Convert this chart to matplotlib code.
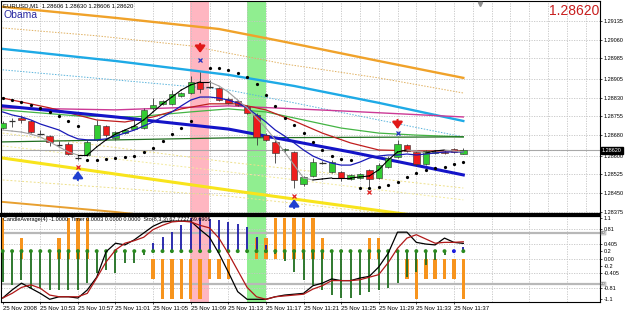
import numpy as np
import matplotlib
matplotlib.use("Agg")
import matplotlib.pyplot as plt
from matplotlib.transforms import blended_transform_factory as blend

plt.rcParams['font.family'] = ['Liberation Sans', 'DejaVu Sans']

# ===============================
# Data (EURUSD M1, 25 Nov 2008)
# ===============================
bars = np.arange(50)

opens = [1.28709, 1.28737, 1.28749, 1.28737, 1.28685, 1.28677, 1.28642, 1.28646, 1.28590, 1.28602,
         1.28662, 1.28717, 1.28670, 1.28689, 1.28705, 1.28709, 1.28789, 1.28805, 1.28805, 1.28836,
         1.28848, 1.28892, 1.28872, 1.28868, 1.28824, 1.28816, 1.28793, 1.28761, 1.28681, 1.28654,
         1.28620, 1.28614, 1.28487, 1.28519, 1.28570, 1.28535, 1.28535, 1.28507, 1.28511, 1.28543,
         1.28511, 1.28555, 1.28594, 1.28642, 1.28614, 1.28566, 1.28610, 1.28614, 1.28626, 1.28606]
highs = [1.28737, 1.28749, 1.28761, 1.28741, 1.28701, 1.28681, 1.28658, 1.28654, 1.28602, 1.28662,
         1.28741, 1.28721, 1.28697, 1.28705, 1.28749, 1.28789, 1.28828, 1.28820, 1.28860, 1.28852,
         1.28916, 1.28932, 1.28900, 1.28872, 1.28832, 1.28820, 1.28801, 1.28769, 1.28689, 1.28662,
         1.28630, 1.28618, 1.28519, 1.28590, 1.28578, 1.28582, 1.28539, 1.28527, 1.28531, 1.28547,
         1.28570, 1.28598, 1.28662, 1.28646, 1.28618, 1.28622, 1.28622, 1.28622, 1.28630, 1.28630]
lows = [1.28705, 1.28713, 1.28729, 1.28689, 1.28681, 1.28638, 1.28634, 1.28602, 1.28582, 1.28598,
        1.28658, 1.28674, 1.28662, 1.28685, 1.28701, 1.28705, 1.28781, 1.28801, 1.28801, 1.28832,
        1.28844, 1.28848, 1.28868, 1.28816, 1.28805, 1.28797, 1.28765, 1.28642, 1.28658, 1.28570,
        1.28614, 1.28471, 1.28479, 1.28515, 1.28566, 1.28531, 1.28499, 1.28503, 1.28507, 1.28475,
        1.28507, 1.28551, 1.28590, 1.28614, 1.28558, 1.28562, 1.28606, 1.28606, 1.28610, 1.28606]
closes = [1.28729, 1.28735, 1.28741, 1.28693, 1.28685, 1.28654, 1.28642, 1.28606, 1.28590, 1.28654,
          1.28721, 1.28681, 1.28693, 1.28701, 1.28717, 1.28781, 1.28801, 1.28816, 1.28844, 1.28848,
          1.28892, 1.28864, 1.28870, 1.28820, 1.28808, 1.28801, 1.28769, 1.28674, 1.28662, 1.28610,
          1.28624, 1.28503, 1.28515, 1.28574, 1.28570, 1.28574, 1.28511, 1.28523, 1.28527, 1.28507,
          1.28562, 1.28590, 1.28646, 1.28618, 1.28566, 1.28618, 1.28614, 1.28610, 1.28614, 1.28620]

# moving averages / bands, read at a few bars
orange_i = [0, 12, 23, 30, 40, 49]
orange_p = [1.29190, 1.29146, 1.29102, 1.29051, 1.28975, 1.28908]
tan_i = [0, 10, 20, 30, 40, 49]
tan_p = [1.29106, 1.29075, 1.29035, 1.28963, 1.28908, 1.28848]
cyan_i = [0, 12, 24, 31, 40, 49]
cyan_p = [1.29023, 1.28975, 1.28920, 1.28876, 1.28809, 1.28737]
cyand_i = [0, 24, 31, 40, 49]
cyand_p = [1.28940, 1.28860, 1.28809, 1.28741, 1.28674]
mag_i = [0, 12, 24, 36, 49]
mag_p = [1.28789, 1.28781, 1.28797, 1.28777, 1.28753]
grn_i = [0, 8, 14, 20, 24, 28, 32, 36, 40, 44, 49]
grn_p = [1.28781, 1.28757, 1.28753, 1.28773, 1.28785, 1.28773, 1.28741, 1.28709, 1.28689, 1.28681, 1.28674]
dgr_i = [0, 24, 49]
dgr_p = [1.28654, 1.28670, 1.28674]
red_i = [0, 5, 10, 13, 16, 19, 22, 25, 28, 31, 34, 37, 40, 44, 49]
red_p = [1.28828, 1.28789, 1.28741, 1.28733, 1.28753, 1.28785, 1.28805, 1.28805, 1.28781, 1.28737,
         1.28689, 1.28650, 1.28622, 1.28618, 1.28618]
tblue_i = [0, 12, 24, 37, 49]
tblue_p = [1.28797, 1.28753, 1.28705, 1.28614, 1.28523]
yel_i = [0, 24, 49]
yel_p = [1.28590, 1.28463, 1.28336]
lor_i = [0, 12, 20]
lor_p = [1.28416, 1.28376, 1.28344]
pale_i = [0, 24, 49]
pale1_p = [1.28689, 1.28574, 1.28471]
pale2_p = [1.28503, 1.28439, 1.28336]
pale3_p = [1.28638, 1.28535, 1.28424]

blue_ma = [1.28773, 1.28761, 1.28753, 1.28741, 1.28725, 1.28713, 1.28701, 1.28681, 1.28666, 1.28662,
           1.28662, 1.28666, 1.28677, 1.28689, 1.28701, 1.28717, 1.28733, 1.28753, 1.28773, 1.28797,
           1.28820, 1.28832, 1.28832, 1.28828, 1.28820, 1.28808, 1.28789, 1.28761, 1.28733, 1.28701,
           1.28677, 1.28650, 1.28622, 1.28598, 1.28582, 1.28570, 1.28562, 1.28562, 1.28574, 1.28590,
           1.28598, 1.28602, 1.28602, 1.28606, 1.28602, 1.28606, 1.28610, 1.28614, 1.28614, 1.28614]
fast_ma = [1.28701, 1.28697, 1.28693, 1.28685, 1.28674, 1.28654, 1.28634, 1.28614, 1.28602, 1.28602,
           1.28634, 1.28662, 1.28685, 1.28701, 1.28717, 1.28741, 1.28773, 1.28805, 1.28832, 1.28860,
           1.28880, 1.28892, 1.28892, 1.28876, 1.28852, 1.28820, 1.28789, 1.28749, 1.28709, 1.28662,
           1.28614, 1.28562, 1.28511, 1.28503, 1.28507, 1.28511, 1.28511, 1.28511, 1.28515, 1.28519,
           1.28543, 1.28582, 1.28614, 1.28622, 1.28618, 1.28610, 1.28618, 1.28622, 1.28618, 1.28614]

sar_i = [0, 1, 2, 3, 4, 5, 6, 7, 8, 9, 10, 11, 12, 13, 14, 15, 16, 17, 18, 19, 20,
         22, 23, 24, 25, 26, 27, 28, 29, 30, 31, 32, 33, 34, 35, 36, 37,
         38, 39, 40, 41, 42, 43, 44, 45, 46, 47, 48, 49]
sar_p = [1.28828, 1.28820, 1.28812, 1.28801, 1.28789, 1.28773, 1.28757, 1.28737, 1.28717,
         1.28582, 1.28582, 1.28586, 1.28590, 1.28594, 1.28598, 1.28614, 1.28630, 1.28658, 1.28685,
         1.28709, 1.28737,
         1.28947, 1.28947, 1.28940, 1.28928, 1.28912, 1.28884, 1.28840, 1.28797, 1.28749, 1.28721,
         1.28689, 1.28654, 1.28622, 1.28598, 1.28586, 1.28582,
         1.28471, 1.28471, 1.28475, 1.28483, 1.28495, 1.28515, 1.28531, 1.28543, 1.28551, 1.28555,
         1.28566, 1.28574]

# signal crosses and arrows
xmark_i = [8, 21, 31, 39, 42]
xmark_p = [1.28555, 1.28979, 1.28439, 1.28455, 1.28689]
xmark_c = ['#e02020', '#2030c0', '#e02020', '#e02020', '#2030c0']
arrow_i = [8, 21, 31, 42]
arrow_tail = [1.28503, 1.29043, 1.28392, 1.28741]
arrow_tip = [1.28539, 1.29007, 1.28427, 1.28705]
arrow_c = ['#2040d0', '#e01818', '#2040d0', '#e01818']

price_ticks = [1.29135, 1.29060, 1.28985, 1.28905, 1.28830, 1.28755, 1.28680,
               1.28600, 1.28525, 1.28450, 1.28375]
last_price = 1.28620

# sub window
hist = [1.1, 0, 0.55, 0, 0, 0, 0.55, 1.1, 1.1, 1.1,
        0, 0, 0, 0, 0, 0, -0.55, -1.1, -1.1, -1.1,
        -1.1, -1.1, -0.55, -0.55, -0.55, 0, 0, 0.55, 0.55, 1.1,
        1.1, 1.1, 1.1, 1.1, 0.55, 0, 0, 0, 0, 0.55,
        0.55, 0, 0, -0.55, -1.1, -0.55, -0.55, -0.55, -0.55, -1.1]
stems = [-0.64, -0.72, -0.58, -0.8, -0.8, -0.86, -0.86, -0.86, -0.86, -0.67,
         -0.39, -0.31, -0.39, -0.12, -0.12, 0.1, 0.42, 0.58, 0.72, 0.91,
         1.1, 1.1, 1.07, 1.05, 0.99, 0.94, 0.86, 0.58, 0.37, 0.12,
         -0.07, -0.37, -0.58, -0.72, -0.86, -0.99, -1.07, -1.07, -0.99, -0.91,
         -0.86, -0.8, -0.67, -0.5, -0.37, -0.18, -0.04, 0.1, 0.2, 0.31]
dot_level = 0.2
stoch_main = [3.5, 13, 21, 15, 9, 2, 5, 5, 3.5, 13,
              28, 58, 68, 66, 72, 80, 88, 93, 94, 94,
              94, 84, 75, 56, 34, 11, 2, 2, 2, 5,
              7, 8, 9, 18, 21, 26, 24, 24, 27, 29,
              40, 56, 81, 81, 69, 67, 66, 74, 69, 67.77]
stoch_signal = [3.5, 9, 16, 19, 15, 7, 5, 5, 5, 9,
                27, 46, 60, 68, 71, 75, 84, 89, 93, 94,
                93, 89, 86, 74, 56, 36, 16, 5, 2, 5,
                6, 7, 8, 14, 18, 24, 24, 24, 25, 28,
                31, 45, 62, 74, 78, 73, 68, 69, 69, 69.69]
sub_ticks = [1.1, 0.81, 0.405, 0.2, 0.0, -0.2, -0.405, -0.81, -1.1]
sub_labels = ['1.1', '0.81', '0.405', '0.2', '0.00', '-0.2', '-0.405', '-0.81', '-1.1']

time_pos = list(range(0, 50, 4))
time_labels = ['25 Nov 2008', '25 Nov 10:53', '25 Nov 10:57', '25 Nov 11:01', '25 Nov 11:05',
               '25 Nov 11:09', '25 Nov 11:13', '25 Nov 11:17', '25 Nov 11:21', '25 Nov 11:25',
               '25 Nov 11:29', '25 Nov 11:33', '25 Nov 11:37']

pink_span = (19.9, 21.9)
green_span = (26.0, 28.0)

# ===============================
# Figure layout (pixel boxes)
# ===============================
W, H = 625, 316
fig = plt.figure(figsize=(W / 100, H / 100), dpi=100)
fig.patch.set_facecolor('white')


def box(l, t, r, b):
    return [l / W, 1 - b / H, (r - l) / W, (b - t) / H]


ax = fig.add_axes(box(1, 1, 600, 214))
sub = fig.add_axes(box(1, 216, 600, 302))

XL = (-0.18, 63.54)
grid_kw = dict(color='#c4c4c4', lw=0.6, ls=(0, (1.5, 1.5)), zorder=0.5)

# ===============================
# Main window
# ===============================
ax.set_xlim(*XL)
ax.set_ylim(1.28368, 1.29213)
for a in (ax, sub):
    a.axvspan(*pink_span, color='#ffb6c1', lw=0, zorder=0)
    a.axvspan(*green_span, color='#90ee90', lw=0, zorder=0)

for p in price_ticks:
    ax.axhline(p, **grid_kw)
for i in range(2, 64, 2):
    ax.axvline(i, **grid_kw)

# bands and slow lines
ax.plot(pale_i, pale1_p, color='#eee08a', lw=0.7, ls=(0, (2, 2)), zorder=1)
ax.plot(pale_i, pale2_p, color='#eee08a', lw=0.7, ls=(0, (2, 2)), zorder=1)
ax.plot(pale_i, pale3_p, color='#f3ea9c', lw=0.7, ls=(0, (2, 2)), zorder=1)
ax.plot(tan_i, tan_p, color='#e0b060', lw=0.7, ls=(0, (1.5, 1.5)), zorder=1)
ax.plot(cyand_i, cyand_p, color='#5ab4dc', lw=0.7, ls=(0, (1.5, 1.5)), zorder=1)
ax.plot(orange_i, orange_p, color='#f0a22a', lw=1.7, zorder=2)
ax.plot(lor_i, lor_p, color='#e8a030', lw=1.4, zorder=2)
ax.plot(yel_i, yel_p, color='#f8e41c', lw=2.2, zorder=2)
ax.plot(cyan_i, cyan_p, color='#1eaae6', lw=1.7, zorder=2)
ax.plot(mag_i, mag_p, color='#cc3a96', lw=1.0, zorder=2)
ax.plot(grn_i, grn_p, color='#44b444', lw=0.9, zorder=2)
ax.plot(dgr_i, dgr_p, color='#1f6e1f', lw=0.9, zorder=2)
ax.plot(red_i, red_p, color='#c01e1e', lw=0.9, zorder=2)
ax.plot(tblue_i, tblue_p, color='#1414c8', lw=2.2, zorder=2)

ax.axhline(last_price, color='#a8a8a8', lw=0.8, zorder=1.5)

# candles
for i in bars:
    o, h, l, c = opens[i], highs[i], lows[i], closes[i]
    ax.vlines(i, l, h, color='#3c3c3c', lw=0.6, zorder=3)
    if abs(c - o) < 0.00003:
        ax.hlines(c, i - 0.35, i + 0.35, color='#303030', lw=0.9, zorder=3.5)
        continue
    face = '#33cc33' if c > o else '#ee1c1c'
    ax.bar(i, abs(c - o), bottom=min(o, c), width=0.68, color=face,
           edgecolor='#303030', lw=0.4, zorder=3.5)

ax.plot(bars, blue_ma, color='#1a1ab8', lw=0.9, zorder=4)
for k in range(len(bars) - 1):
    col = 'black' if fast_ma[k + 1] >= fast_ma[k] else '#a0a0a0'
    ax.plot(bars[k:k + 2], fast_ma[k:k + 2], color=col, lw=0.8, zorder=4)

ax.plot(sar_i, sar_p, 'o', color='black', ms=1.3, lw=0, zorder=5)
for i, p, c in zip(xmark_i, xmark_p, xmark_c):
    ax.plot(i, p, 'x', color=c, ms=3, mew=0.9, zorder=5)
for i, t0, t1, c in zip(arrow_i, arrow_tail, arrow_tip, arrow_c):
    ax.annotate('', xy=(i, t1), xytext=(i, t0),
                arrowprops=dict(arrowstyle='-|>,head_width=0.3,head_length=0.4', color=c,
                                lw=1.6, shrinkA=0, shrinkB=0), zorder=5)

ax.plot(50.8, 1.29200, marker='v', color='#909090', ms=3, clip_on=False, zorder=6)

ax.yaxis.tick_right()
ax.set_yticks(price_ticks)
ax.set_yticklabels(['%.5f' % p for p in price_ticks])
ax.tick_params(axis='y', labelsize=4, length=1.5, pad=1, width=0.5)
ax.set_xticks([])
for s in ax.spines.values():
    s.set_linewidth(0.8)
ax.spines['bottom'].set_linewidth(1.6)

ax.text(1.003, last_price, '%.5f' % last_price, transform=blend(ax.transAxes, ax.transData),
        fontsize=4, color='white', va='center', ha='left', zorder=7,
        bbox=dict(boxstyle='square,pad=0.15', fc='black', ec='black'))

fig.text(3 / W, 1 - 6 / H, 'EURUSD,M1  1.28606 1.28630 1.28606 1.28620', fontsize=4.3,
         va='center', ha='left', color='black')
fig.text(4 / W, 1 - 14.5 / H, 'Obama', fontsize=7.5, va='center', ha='left', color='#2828a0')
fig.text(599 / W, 1 - 11 / H, '1.28620', fontsize=10, va='center', ha='right', color='#c81e1e')

# ===============================
# Sub window
# ===============================
sub.set_xlim(*XL)
sub.set_ylim(-1.182, 1.155)
for v in [0.81, 0.405, 0.0, -0.405, -0.81]:
    sub.axhline(v, **grid_kw)
for i in range(4, 64, 4):
    sub.axvline(i, **grid_kw)


def sto(s):
    return (np.array(s, dtype=float) - 50) * 0.0231


sub.axhline(sto([80])[0], color='#b8b8b8', lw=1.6, zorder=1)
sub.axhline(sto([20])[0], color='#b8b8b8', lw=1.6, zorder=1)

sub.bar(bars, hist, width=0.38, color='#f7941d', zorder=2)
stem_cols = ['#1c1ca8' if s > dot_level else '#1f6e1f' for s in stems]
sub.vlines(bars, dot_level, stems, colors=stem_cols, lw=1.3, zorder=3)
dot_cols = ['#1a1ae0' if abs(s - dot_level) < 0.01 else '#2a8a1f' for s in stems]
sub.scatter(bars, [dot_level] * len(bars), s=8, c=dot_cols, zorder=4, linewidths=0)

sub.plot(bars, sto(stoch_main), color='black', lw=0.9, zorder=5)
sub.plot(bars, sto(stoch_signal), color='#b01818', lw=0.9, zorder=5)

sub.yaxis.tick_right()
sub.set_yticks(sub_ticks)
sub.set_yticklabels(sub_labels)
sub.tick_params(axis='y', labelsize=4, length=1.5, pad=1, width=0.5)
sub.set_xticks(time_pos)
sub.set_xticklabels([])
sub.tick_params(axis='x', length=1.5, width=0.5)
for s in sub.spines.values():
    s.set_linewidth(0.8)
sub.spines['top'].set_linewidth(1.6)

tb = blend(sub.transAxes, sub.transData)
for lvl in (80, 20):
    sub.text(1.002, sto([lvl])[0], str(lvl), transform=tb, fontsize=3.2, color='#606060',
             va='center', ha='left', zorder=7,
             bbox=dict(boxstyle='square,pad=0.1', fc='#dcdcdc', ec='#909090', lw=0.3))

tx = blend(sub.transData, sub.transAxes)
for i, lab in zip(time_pos, time_labels):
    sub.text(i, -0.076, lab, transform=tx, fontsize=4.3, va='center', ha='left', color='black')

fig.text(3 / W, 1 - 220 / H,
         'CandleAverage(4) -1.0000  Timer 0.0003 0.0000 0.0000  Sto(8,3,3) 67.7727 69.6906',
         fontsize=4, va='center', ha='left', color='black')

fig.savefig('out.png', dpi=100)
